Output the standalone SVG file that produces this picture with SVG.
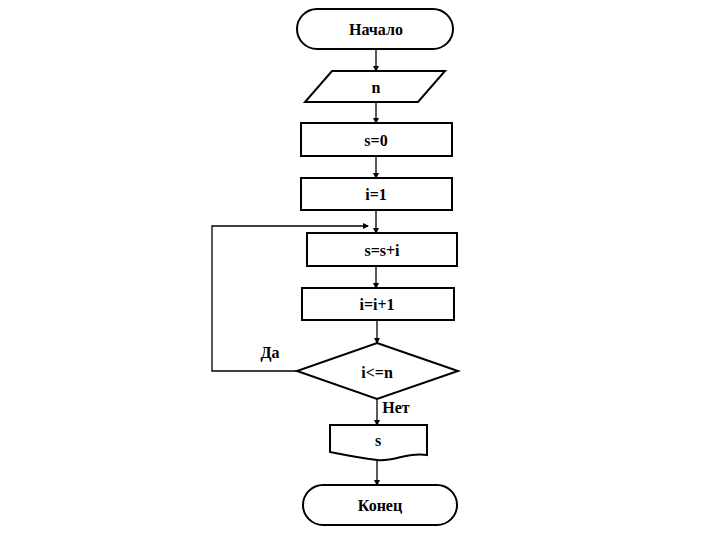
<svg xmlns="http://www.w3.org/2000/svg" width="720" height="540" viewBox="0 0 720 540">
<style>
.s{fill:#fff;stroke:#000;stroke-width:2}
.t{font-family:'Liberation Serif','DejaVu Serif','Times New Roman',serif;font-size:16px;font-weight:bold;text-anchor:middle}
.c{fill:none;stroke:#000;stroke-width:1.3}
</style>
<defs><marker id="a" markerWidth="6" markerHeight="6" refX="5" refY="3" orient="auto" markerUnits="userSpaceOnUse"><path d="M0,0L6,3L0,6z"/></marker></defs>
<rect width="720" height="540" fill="#fff"/>
<g id="connectors">
<line class="c" x1="376" y1="49" x2="376" y2="71" marker-end="url(#a)"/>
<line class="c" x1="376" y1="102" x2="376" y2="123" marker-end="url(#a)"/>
<line class="c" x1="376" y1="156" x2="376" y2="178" marker-end="url(#a)"/>
<line class="c" x1="376" y1="210" x2="376" y2="233" marker-end="url(#a)"/>
<line class="c" x1="376" y1="266" x2="376" y2="288" marker-end="url(#a)"/>
<line class="c" x1="377" y1="320" x2="377" y2="343" marker-end="url(#a)"/>
<line class="c" x1="377" y1="399" x2="377" y2="425" marker-end="url(#a)"/>
<line class="c" x1="377" y1="458" x2="377" y2="485" marker-end="url(#a)"/>
<polyline class="c" points="297,371 212,371 212,226 368,226" marker-end="url(#a)"/>
<text class="t" x="270" y="358">Да</text>
<text class="t" x="396" y="413">Нет</text>
</g>
<g id="start"><rect class="s" x="297" y="9" width="156" height="40" rx="20"/><text class="t" x="376" y="35">Начало</text></g>
<g id="input"><polygon class="s" points="332,71 445,71 418,102 305,102"/><text class="t" x="376" y="93">n</text></g>
<g id="s0"><rect class="s" x="301" y="123" width="151" height="33"/><text class="t" x="376" y="146">s=0</text></g>
<g id="i1"><rect class="s" x="301" y="178" width="151" height="32"/><text class="t" x="376" y="200">i=1</text></g>
<g id="ssi"><rect class="s" x="307" y="233" width="150" height="33"/><text class="t" x="382" y="256">s=s+i</text></g>
<g id="ii1"><rect class="s" x="302" y="288" width="152" height="32"/><text class="t" x="377" y="310">i=i+1</text></g>
<g id="cond"><polygon class="s" points="377,343 458,371 377,399 297,371"/><text class="t" x="377" y="378">i&lt;=n</text></g>
<g id="out"><path class="s" d="M330,425H427V455C405,452 395,462 377,460C360,458 345,455 330,452Z"/><text class="t" x="378" y="446">s</text></g>
<g id="end"><rect class="s" x="303" y="485" width="154" height="40" rx="20"/><text class="t" x="380" y="511">Конец</text></g>
</svg>
